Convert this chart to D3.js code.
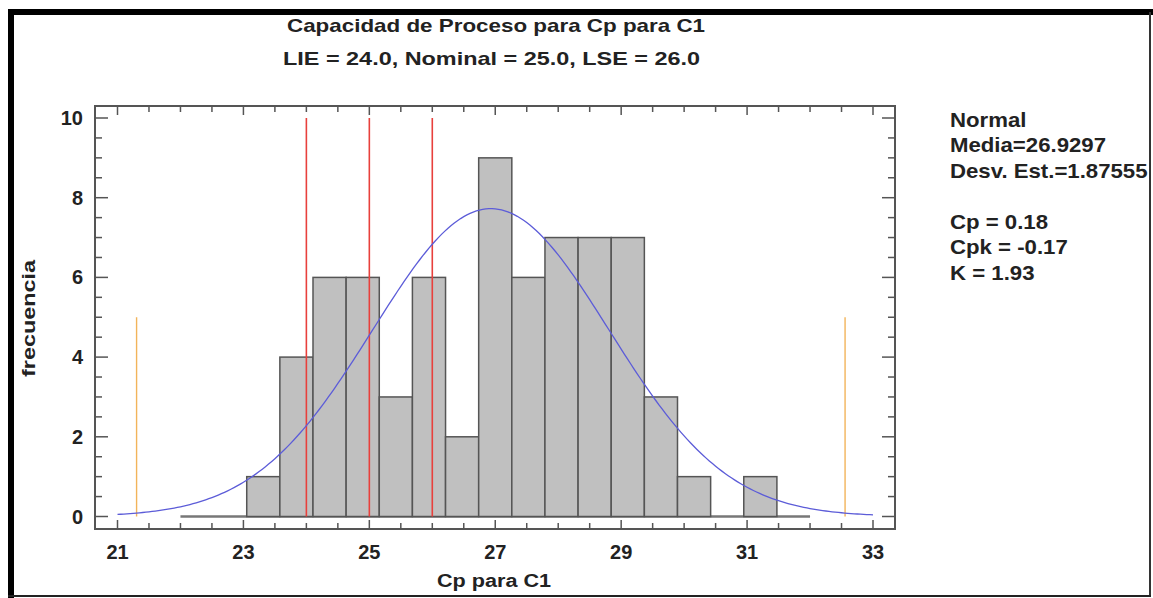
<!DOCTYPE html>
<html>
<head>
<meta charset="utf-8">
<script src="https://cdn.jsdelivr.net/npm/d3@7"></script>
<style>
  body { margin: 0; background: #fff; }
  text { font-family: "Liberation Sans", Arial, sans-serif; font-weight: bold; fill: #222; }
</style>
</head>
<body>
<svg width="1153" height="598"></svg>
<script>
// histogram bins (19 bins from 22 to 32)
const binStart = 22;
const binEnd = 32;
const counts = [0, 0, 1, 4, 6, 6, 3, 6, 2, 9, 6, 7, 7, 7, 3, 1, 0, 1, 0];
const xTicks = [21, 23, 25, 27, 29, 31, 33];
const yTicks = [0, 2, 4, 6, 8, 10];
const specLines = [24, 25, 26];          // LIE, Nominal, LSE
const mean = 26.9297;
const sd = 1.87555;
const sigmaLines = [mean - 3 * sd, mean + 3 * sd];
const legendLines = ["Normal", "Media=26.9297", "Desv. Est.=1.87555", "", "Cp = 0.18", "Cpk = -0.17", "K = 1.93"];

const svg = d3.select("svg");

// outer frame
svg.append("rect").attr("x", 8).attr("y", 9).attr("width", 1145).attr("height", 6).attr("fill", "#000");
svg.append("rect").attr("x", 8).attr("y", 9).attr("width", 6).attr("height", 589).attr("fill", "#000");
svg.append("line").attr("x1", 1150).attr("x2", 1150).attr("y1", 12).attr("y2", 597)
    .attr("stroke", "#333").attr("stroke-width", 2);
svg.append("line").attr("x1", 8).attr("x2", 1151).attr("y1", 596).attr("y2", 596)
    .attr("stroke", "#222").attr("stroke-width", 2);

const x = d3.scaleLinear().domain([21, 33]).range([117.5, 873]);
const y = d3.scaleLinear().domain([0, 10]).range([516.5, 118]);
const plot = { left: 95, right: 895, top: 106, bottom: 529 };

const binW = (binEnd - binStart) / counts.length;
const bins = counts.map((c, i) => ({ x0: binStart + i * binW, x1: binStart + (i + 1) * binW, c }));

// baseline under the empty bins
svg.append("line")
    .attr("x1", x(binStart)).attr("x2", x(binEnd))
    .attr("y1", y(0)).attr("y2", y(0))
    .attr("stroke", "#777").attr("stroke-width", 2.5);

// bars
svg.append("g").selectAll("rect")
    .data(bins.filter(d => d.c > 0))
    .enter()
    .append("rect")
    .attr("x", d => x(d.x0))
    .attr("y", d => y(d.c))
    .attr("width", d => x(d.x1) - x(d.x0))
    .attr("height", d => y(0) - y(d.c))
    .attr("fill", "#c0c0c0")
    .attr("stroke", "#555")
    .attr("stroke-width", 1.5);

// spec limits
svg.append("g").selectAll("line")
    .data(specLines)
    .enter()
    .append("line")
    .attr("x1", d => x(d)).attr("x2", d => x(d))
    .attr("y1", y(0)).attr("y2", y(10))
    .attr("stroke", "#e8403c").attr("stroke-width", 1.6);

// +-3 sigma
svg.append("g").selectAll("line")
    .data(sigmaLines)
    .enter()
    .append("line")
    .attr("x1", d => x(d)).attr("x2", d => x(d))
    .attr("y1", y(0)).attr("y2", y(5))
    .attr("stroke", "#f2b45a").attr("stroke-width", 1.4);

// fitted normal curve
const n = d3.sum(counts);
const dens = v => n * binW * Math.exp(-0.5 * ((v - mean) / sd) ** 2) / (sd * Math.sqrt(2 * Math.PI));
const curvePts = d3.range(21, 33.001, 0.05).map(v => [v, dens(v)]);
svg.append("path")
    .datum(curvePts)
    .attr("fill", "none")
    .attr("stroke", "#5c5cd8")
    .attr("stroke-width", 1.3)
    .attr("d", d3.line().x(d => x(d[0])).y(d => y(d[1])));

// plot frame
svg.append("rect")
    .attr("x", plot.left).attr("y", plot.top)
    .attr("width", plot.right - plot.left).attr("height", plot.bottom - plot.top)
    .attr("fill", "none").attr("stroke", "#555").attr("stroke-width", 2);

// ticks, inward on all four sides
const xMinor = d3.range(21, 33.001, 0.5);
const yMinor = d3.range(0, 10.001, 0.5);
const isMajorX = v => xTicks.includes(v);
const isMajorY = v => yTicks.includes(v);
const tg = svg.append("g").attr("stroke", "#555").attr("stroke-width", 1.5);
xMinor.forEach(v => {
    const len = isMajorX(v) ? 9 : 6;
    tg.append("line").attr("x1", x(v)).attr("x2", x(v)).attr("y1", plot.bottom).attr("y2", plot.bottom - len);
    tg.append("line").attr("x1", x(v)).attr("x2", x(v)).attr("y1", plot.top).attr("y2", plot.top + len);
});
yMinor.forEach(v => {
    const len = isMajorY(v) ? 13 : 7;
    tg.append("line").attr("y1", y(v)).attr("y2", y(v)).attr("x1", plot.left).attr("x2", plot.left + len);
    tg.append("line").attr("y1", y(v)).attr("y2", y(v)).attr("x1", plot.right).attr("x2", plot.right - len);
});

// tick labels
svg.append("g").selectAll("text")
    .data(xTicks)
    .enter()
    .append("text")
    .attr("x", d => x(d))
    .attr("y", 559)
    .attr("text-anchor", "middle")
    .attr("font-size", 20)
    .text(d => d);
svg.append("g").selectAll("text")
    .data(yTicks)
    .enter()
    .append("text")
    .attr("x", 83)
    .attr("y", d => y(d) + 7)
    .attr("text-anchor", "end")
    .attr("font-size", 20)
    .text(d => d);

// axis titles
svg.append("text").attr("x", 437).attr("y", 587)
    .attr("font-size", 18).attr("textLength", 114).attr("lengthAdjust", "spacingAndGlyphs")
    .text("Cp para C1");
svg.append("text").attr("transform", "translate(35,377) rotate(-90)")
    .attr("font-size", 18).attr("textLength", 117).attr("lengthAdjust", "spacingAndGlyphs")
    .text("frecuencia");

// titles
svg.append("text").attr("x", 287).attr("y", 32).attr("font-size", 19)
    .attr("textLength", 418).attr("lengthAdjust", "spacingAndGlyphs")
    .text("Capacidad de Proceso para  Cp para C1");
svg.append("text").attr("x", 283).attr("y", 65).attr("font-size", 19)
    .attr("textLength", 417).attr("lengthAdjust", "spacingAndGlyphs")
    .text("LIE = 24.0, Nominal = 25.0, LSE = 26.0");

// legend
svg.append("g")
    .attr("transform", "translate(950,0) scale(1.11,1)")
    .selectAll("text")
    .data(legendLines)
    .enter()
    .append("text")
    .attr("x", 0)
    .attr("y", (d, i) => 127 + i * 25.5)
    .attr("font-size", 20)
    .text(d => d);
</script>
</body>
</html>
